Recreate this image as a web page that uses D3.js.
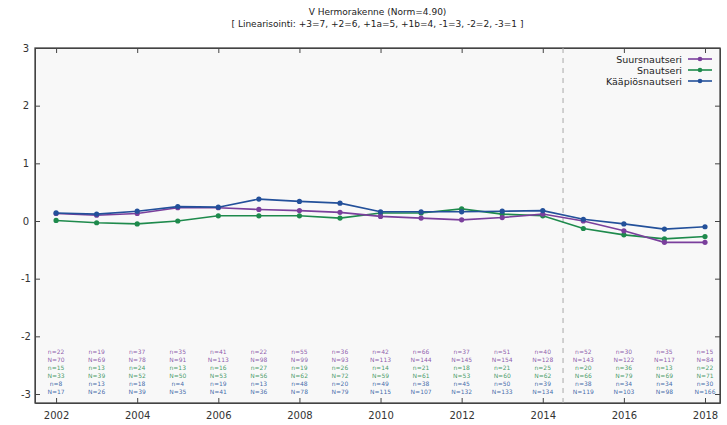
<!DOCTYPE html>
<html>
<head>
<meta charset="utf-8">
<script src="https://cdn.jsdelivr.net/npm/d3@7"></script>
<style>
    body { margin: 0; background: #fff; }
    svg { display: block; font-family: "DejaVu Sans", sans-serif; }
</style>
</head>
<body>
<div id="chart"></div>
<script>
(function(){

    "use strict";

    //-> data
    var years = [2002, 2003, 2004, 2005, 2006, 2007, 2008, 2009, 2010, 2011, 2012, 2013, 2014, 2015, 2016, 2017, 2018];
    var seriesNames = ["Suursnautseri", "Snautseri", "Kääpiösnautseri"];
    var suursnautseri = [0.13, 0.10, 0.13, 0.23, 0.23, 0.20, 0.18, 0.15, 0.08, 0.05, 0.02, 0.06, 0.12, 0.00, -0.17, -0.37, -0.37];
    var snautseri = [0.01, -0.03, -0.05, 0.00, 0.09, 0.09, 0.09, 0.05, 0.14, 0.14, 0.21, 0.12, 0.09, -0.13, -0.24, -0.31, -0.27];
    var kaapiosnautseri = [0.14, 0.12, 0.17, 0.25, 0.24, 0.38, 0.34, 0.31, 0.16, 0.16, 0.16, 0.17, 0.18, 0.03, -0.05, -0.14, -0.10];

    //-> n / N counts per year (rows: Suur n, Suur N, Snaut n, Snaut N, Kääpiö n, Kääpiö N)
    var suurN1 = [22, 19, 37, 35, 41, 22, 55, 36, 42, 66, 37, 51, 40, 52, 30, 35, 15];
    var suurN2 = [70, 69, 78, 91, 113, 98, 99, 93, 113, 144, 145, 154, 128, 143, 122, 117, 84];
    var snautN1 = [15, 13, 24, 13, 16, 27, 19, 26, 14, 21, 18, 21, 25, 20, 36, 13, 22];
    var snautN2 = [33, 39, 52, 50, 53, 56, 62, 72, 59, 61, 53, 60, 62, 66, 79, 69, 71];
    var kaapN1 = [8, 13, 18, 4, 19, 13, 48, 20, 49, 38, 45, 50, 39, 38, 34, 34, 30];
    var kaapN2 = [17, 26, 39, 35, 41, 36, 78, 79, 115, 107, 132, 133, 134, 119, 103, 98, 166];

    var yTicks = [-3, -2, -1, 0, 1, 2, 3];
    var xTicks = [2002, 2004, 2006, 2008, 2010, 2012, 2014, 2016, 2018];
    var splitYear = 2014.5;

    var title1 = "V Hermorakenne (Norm=4.90)";
    var title2 = "[ Linearisointi: +3=7, +2=6, +1a=5, +1b=4, -1=3, -2=2, -3=1 ]";

    var colors = ["#7a3f9c", "#1e8a4c", "#23509a"];

    // -> dimensions
    var width = 727, height = 425;
    var plot = {left: 35, right: 720, top: 48, bottom: 403};

    var x = d3.scaleLinear().domain([2001.48, 2018.37]).range([plot.left, plot.right]);
    var y = d3.scaleLinear().domain([-3.156, 3]).range([plot.bottom, plot.top]);

    var svg = d3.select("#chart").append("svg")
        .attr("width", width)
        .attr("height", height);

    //-> plot background
    svg.append("rect")
        .attr("x", plot.left).attr("y", plot.top)
        .attr("width", plot.right - plot.left)
        .attr("height", plot.bottom - plot.top)
        .attr("fill", "#f8f8f8");

    //-> title
    svg.append("text")
        .attr("x", (plot.left + plot.right) / 2).attr("y", 15)
        .attr("text-anchor", "middle")
        .attr("font-size", 9)
        .attr("fill", "#222")
        .text(title1);
    svg.append("text")
        .attr("x", (plot.left + plot.right) / 2).attr("y", 27)
        .attr("text-anchor", "middle")
        .attr("font-size", 9)
        .attr("fill", "#222")
        .text(title2);

    //-> axes (ticks point inwards, mirrored on the other side)
    var tickLen = 5;
    svg.append("g")
        .attr("class", "xAxis")
        .attr("transform", "translate(0," + plot.bottom + ")")
        .call(d3.axisBottom(x).tickValues(xTicks).tickFormat(String).tickSizeInner(-tickLen).tickSizeOuter(0).tickPadding(9));
    svg.append("g")
        .attr("class", "xAxisTop")
        .attr("transform", "translate(0," + plot.top + ")")
        .call(d3.axisTop(x).tickValues(xTicks).tickFormat("").tickSizeInner(-tickLen).tickSizeOuter(0));
    svg.append("g")
        .attr("class", "yAxis")
        .attr("transform", "translate(" + plot.left + ",0)")
        .call(d3.axisLeft(y).tickValues(yTicks).tickFormat(String).tickSizeInner(-tickLen).tickSizeOuter(0).tickPadding(12));
    svg.append("g")
        .attr("class", "yAxisRight")
        .attr("transform", "translate(" + plot.right + ",0)")
        .call(d3.axisRight(y).tickValues(yTicks).tickFormat("").tickSizeInner(-tickLen).tickSizeOuter(0));

    svg.selectAll(".xAxis, .xAxisTop, .yAxis, .yAxisRight").selectAll("path, line")
        .attr("stroke", "#444");
    svg.selectAll(".xAxis text, .yAxis text")
        .attr("font-size", 10)
        .attr("fill", "#333")
        .attr("font-family", "DejaVu Sans, sans-serif");
    svg.selectAll(".yAxis text").attr("text-anchor", "middle").attr("dx", 3);

    //-> frame
    svg.append("rect")
        .attr("x", plot.left).attr("y", plot.top)
        .attr("width", plot.right - plot.left)
        .attr("height", plot.bottom - plot.top)
        .attr("fill", "none")
        .attr("stroke", "#444")
        .attr("stroke-width", 1.3);

    //-> dashed split line
    svg.append("line")
        .attr("x1", x(splitYear)).attr("x2", x(splitYear))
        .attr("y1", plot.top).attr("y2", plot.bottom)
        .attr("stroke", "#aaa")
        .attr("stroke-width", 1)
        .attr("stroke-dasharray", "5,5");

    //-> n / N table
    var rows = [
        {label: "n=", vals: suurN1, color: colors[0]},
        {label: "N=", vals: suurN2, color: colors[0]},
        {label: "n=", vals: snautN1, color: colors[1]},
        {label: "N=", vals: snautN2, color: colors[1]},
        {label: "n=", vals: kaapN1, color: colors[2]},
        {label: "N=", vals: kaapN2, color: colors[2]}
    ];
    rows.forEach(function(r, i) {
        svg.append("g").selectAll("text")
            .data(years)
            .enter().append("text")
            .attr("x", function(d) { return x(d); })
            .attr("y", 354 + i * 8)
            .attr("text-anchor", "middle")
            .attr("font-size", 6)
            .attr("fill", r.color)
            .attr("fill-opacity", 0.85)
            .text(function(d, j) { return r.label + r.vals[j]; });
    });

    //-> lines and points
    var allSeries = [suursnautseri, snautseri, kaapiosnautseri];
    var line = d3.line()
        .x(function(d, i) { return x(years[i]); })
        .y(function(d) { return y(d); });

    // draw order: Snautseri, Suursnautseri, Kääpiösnautseri on top
    [1, 0, 2].forEach(function(k) {
        svg.append("path")
            .datum(allSeries[k])
            .attr("fill", "none")
            .attr("stroke", colors[k])
            .attr("stroke-width", 1.6)
            .attr("d", line);
        svg.append("g").selectAll("circle")
            .data(allSeries[k])
            .enter().append("circle")
            .attr("r", 2.6)
            .attr("cx", function(d, i) { return x(years[i]); })
            .attr("cy", function(d) { return y(d); })
            .attr("fill", colors[k]);
    });

    //-> legend
    seriesNames.forEach(function(name, i) {
        var ly = 59 + i * 11;
        svg.append("text")
            .attr("x", 682).attr("y", ly + 3.5)
            .attr("text-anchor", "end")
            .attr("font-size", 9.5)
            .attr("fill", "#222")
            .text(name);
        svg.append("line")
            .attr("x1", 688).attr("x2", 712)
            .attr("y1", ly).attr("y2", ly)
            .attr("stroke", colors[i])
            .attr("stroke-width", 1.6);
        svg.append("circle")
            .attr("cx", 700).attr("cy", ly).attr("r", 2.3)
            .attr("fill", colors[i]);
    });

})();
</script>
</body>
</html>
